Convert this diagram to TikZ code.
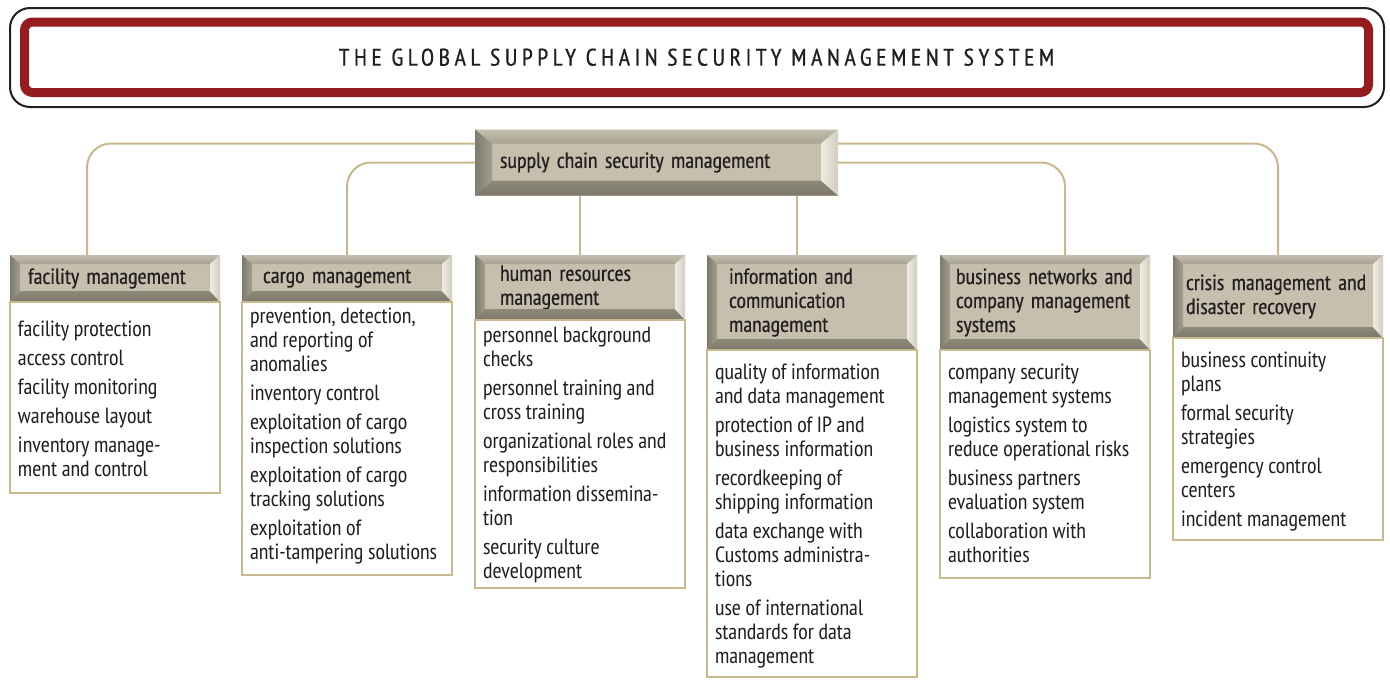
\documentclass[tikz,border=0pt]{standalone}
\usepackage{fontspec}
\setmainfont{PT Sans Narrow}
\newfontfamily\headfont[FakeBold=0.4,WordSpace=0.6]{PT Sans Narrow}
\newfontfamily\titlefont[LetterSpace=19,FakeBold=0.6]{PT Sans Narrow}
\usetikzlibrary{positioning}

\definecolor{inkcol}{HTML}{231F20}
\definecolor{titlered}{HTML}{951B1F}
\definecolor{facecol}{HTML}{C7BFAD}
\definecolor{bevtopA}{HTML}{C2BDAE}
\definecolor{bevtopB}{HTML}{A8A391}
\definecolor{bevbotA}{HTML}{8E8A7A}
\definecolor{bevbotB}{HTML}{7C7869}
\definecolor{bevleftA}{HTML}{7F7B6C}
\definecolor{bevleftB}{HTML}{A39F8F}
\definecolor{bevrightA}{HTML}{EFECE3}
\definecolor{bevrightB}{HTML}{D2CDBE}
\definecolor{linkcol}{HTML}{C8B88C}
\definecolor{boxcol}{HTML}{C8B98F}

% bevel round a node: name, side, top, bottom (in pixels)
\newcommand{\bevelof}[4]{%
  \shade[top color=bevtopA,bottom color=bevtopB] (#1.north west) -- (#1.north east)
    -- ([shift={(-#2,#3)}]#1.north east) -- ([shift={(#2,#3)}]#1.north west) -- cycle;
  \shade[top color=bevbotA,bottom color=bevbotB] (#1.south west) -- (#1.south east)
    -- ([shift={(-#2,-#4)}]#1.south east) -- ([shift={(#2,-#4)}]#1.south west) -- cycle;
  \shade[left color=bevleftA,right color=bevleftB] (#1.north west) -- ([shift={(#2,#3)}]#1.north west)
    -- ([shift={(#2,-#4)}]#1.south west) -- (#1.south west) -- cycle;
  \shade[left color=bevrightA,right color=bevrightB] ([shift={(-#2,#3)}]#1.north east) -- (#1.north east)
    -- (#1.south east) -- ([shift={(-#2,-#4)}]#1.south east) -- cycle;
}

\begin{document}
\begin{tikzpicture}[x=0.5pt,y=-0.5pt,
  every node/.style={text=inkcol,font=\fontsize{11}{12}\selectfont},
  bevelbox/.style={rectangle,fill=facecol,outer sep=0pt,align=left,font=\headfont\fontsize{11}{12}\selectfont},
  headbox/.style={bevelbox,anchor=north west,minimum width=105pt,inner ysep=0pt},
  bodybox/.style={draw=boxcol,line width=1.2pt,fill=white,inner sep=0pt,outer sep=0pt,anchor=north west,minimum width=105pt},
  link/.style={draw=linkcol,line width=1pt,rounded corners=12pt}]
\useasboundingbox (0,0) rectangle (1390,685);

% title banner
\node[draw=titlered,line width=4.5pt,rounded corners=4pt,minimum width=672pt,minimum height=35.25pt,
  inner sep=0pt,outer sep=0pt,font=\titlefont\fontsize{12}{14}\selectfont] (title) at (696.5,57.25)
  {THE GLOBAL SUPPLY CHAIN SECURITY MANAGEMENT SYSTEM};
\draw[inkcol,line width=1pt,rounded corners=10pt] ([shift={(-14.5,-14)}]title.north west) rectangle ([shift={(15.5,14.5)}]title.south east);

% root
\node[bevelbox,minimum width=181.5pt,minimum height=33pt,text width=156.5pt,inner xsep=12.5pt] (root) at (656.5,162.5)
  {\raisebox{-1pt}{supply chain security management}};
\bevelof{root}{17}{14}{15}

% column heads
\node[headbox,minimum height=23.5pt,inner xsep=9pt,text width=87pt] (h1) at (10,255) {facility management};
\node[headbox,minimum height=23.5pt,inner xsep=10.5pt,text width=84pt] (h2) at (242,255) {cargo management};
\node[headbox,minimum height=32.5pt,inner xsep=12.5pt,text width=80pt] (h3) at (475,255) {human resources\\management};
\node[headbox,minimum height=47.5pt,inner xsep=11pt,text width=83pt] (h4) at (707,255) {information and\\communication\\management};
\node[headbox,minimum height=47.5pt,inner xsep=8pt,text width=89pt] (h5) at (940,255) {business networks and\\company management\\systems};
\node[headbox,minimum height=41.5pt,inner xsep=6.5pt,text width=92pt] (h6) at (1173,255) {\raisebox{1.5pt}{\parbox{92pt}{crisis management and\\disaster recovery}}};
\foreach \h in {h1,h2,h3,h4,h5,h6}{\bevelof{\h}{10}{9}{11}}

% column bodies
\node[bodybox,minimum height=95.5pt] (b1) at (h1.south west) {\parbox[c][95.5pt][t]{97pt}{\raggedright\vspace*{8.8pt}\strut
  facility protection\\[2.5pt]access control\\[2.5pt]facility monitoring\\[2.5pt]warehouse layout\\[2.5pt]
  inventory manage-\\ment and control}};
\node[bodybox,minimum height=136.5pt] (b2) at (h2.south west) {\parbox[c][136.5pt][t]{97pt}{\raggedright\vspace*{2.3pt}\strut
  prevention, detection,\\and reporting of\\anomalies\\[2.5pt]inventory control\\[2.5pt]
  exploitation of cargo\\inspection solutions\\[2.5pt]exploitation of cargo\\tracking solutions\\[2.5pt]
  exploitation of\\anti-tampering solutions}};
\node[bodybox,minimum height=134pt] (b3) at (h3.south west) {\parbox[c][134pt][t]{97pt}{\raggedright\vspace*{2.8pt}\strut
  personnel background\\checks\\[2.5pt]personnel training and\\cross training\\[2.5pt]
  organizational roles and\\responsibilities\\[2.5pt]information dissemina-\\tion\\[2.5pt]
  security culture\\development}};
\node[bodybox,minimum height=163.5pt] (b4) at (h4.south west) {\parbox[c][163.5pt][t]{97pt}{\raggedright\vspace*{6.3pt}\strut
  quality of information\\and data management\\[2.5pt]protection of IP and\\business information\\[2.5pt]
  recordkeeping of\\shipping information\\[2.5pt]data exchange with\\Customs administra-\\tions\\[2.5pt]
  use of international\\standards for data\\management}};
\node[bodybox,minimum height=114pt] (b5) at (h5.south west) {\parbox[c][114pt][t]{97pt}{\raggedright\vspace*{6.3pt}\strut
  company security\\management systems\\[2.5pt]logistics system to\\reduce operational risks\\[2.5pt]
  business partners\\evaluation system\\[2.5pt]collaboration with\\authorities}};
\node[bodybox,minimum height=101pt] (b6) at (h6.south west) {\parbox[c][101pt][t]{97pt}{\raggedright\vspace*{6.3pt}\strut
  business continuity\\plans\\[2.5pt]formal security\\strategies\\[2.5pt]
  emergency control\\centers\\[2.5pt]incident management}};

% connectors
\coordinate (c1) at ([shift={(-28,0)}]h1.north);
\coordinate (c4) at ([shift={(-15,0)}]h4.north);
\coordinate (c5) at ([shift={(20,0)}]h5.north);
\draw[link] ([shift={(0,-19)}]root.west) -| (c1);
\draw[link] (root.west) -| (h2.north);
\draw[link] (h3.north |- root.south) -- (h3.north);
\draw[link] (c4 |- root.south) -- (c4);
\draw[link] (root.east) -| (c5);
\draw[link] ([shift={(0,-19)}]root.east) -| (h6.north);
\end{tikzpicture}
\end{document}
